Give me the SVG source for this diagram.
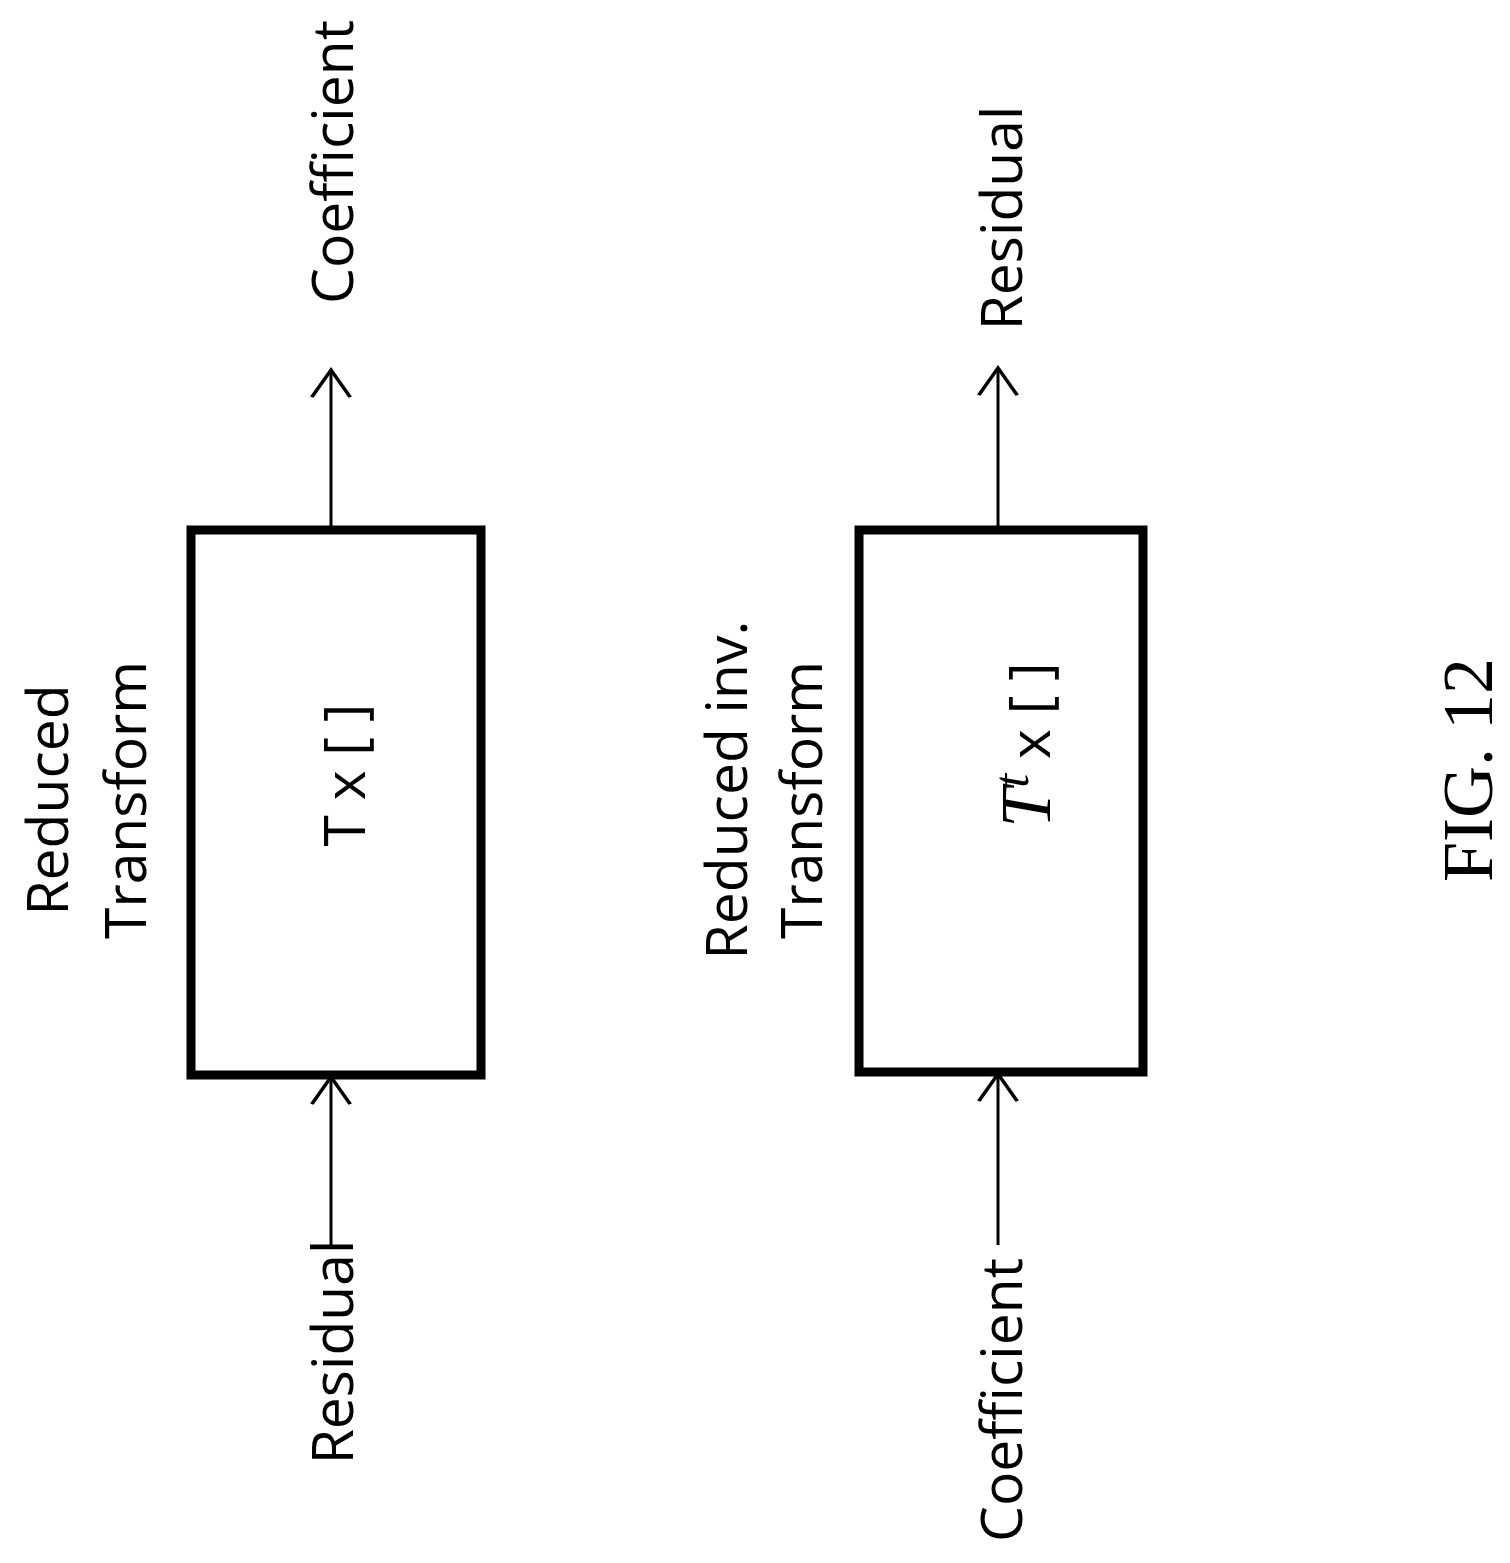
<svg xmlns="http://www.w3.org/2000/svg" width="1510" height="1563" viewBox="0 0 1510 1563">
<defs>
<style>
.b{fill:#fff;stroke:#000;stroke-width:9}
.c{stroke:#000;stroke-width:3;fill:none}
.t{font-family:"Open Sans","DejaVu Sans",sans-serif;font-size:57px;fill:#000;text-anchor:middle}
.f{font-family:"Liberation Serif",serif;font-size:72px;fill:#000;text-anchor:middle}
</style>
<marker id="a" viewBox="0 0 20 20" refX="18" refY="10" markerWidth="34" markerHeight="48" markerUnits="userSpaceOnUse" orient="auto" preserveAspectRatio="none"><path d="M2,2 L18,10 L2,18" fill="none" stroke="#000" stroke-width="1.6"/></marker>
</defs>
<g id="n1"><rect class="b" x="191" y="530" width="290" height="545"/>
<text class="t" transform="translate(365,775) rotate(-90)" font-size="66">T x [ ]</text>
<text class="t" transform="translate(68,800) rotate(-90)">Reduced</text>
<text class="t" transform="translate(146,800) rotate(-90)">Transform</text></g>
<g id="n2"><rect class="b" x="859" y="530" width="284" height="542"/>
<text class="t" transform="translate(1050,745) rotate(-90)" font-size="66"><tspan font-style="italic" font-family="Liberation Serif,serif" font-size="72">T</tspan><tspan font-style="italic" font-family="Liberation Serif,serif" font-size="50" dy="-22">t</tspan><tspan dy="22"> x [ ]</tspan></text>
<text class="t" transform="translate(747,790) rotate(-90)">Reduced inv.</text>
<text class="t" transform="translate(822,800) rotate(-90)">Transform</text></g>
<g id="labels">
<text class="t" transform="translate(353,162) rotate(-90)">Coefficient</text>
<text class="t" transform="translate(353,1352) rotate(-90)">Residual</text>
<text class="t" transform="translate(1022,218) rotate(-90)">Residual</text>
<text class="t" transform="translate(1022,1400) rotate(-90)">Coefficient</text>
<text class="f" transform="translate(1492,770) rotate(-90)">FIG. 12</text>
</g>
<g id="connectors">
<line class="c" x1="331" y1="1245" x2="331" y2="1077" marker-end="url(#a)"/>
<line class="c" x1="331" y1="527" x2="331" y2="370" marker-end="url(#a)"/>
<line class="c" x1="998" y1="1245" x2="998" y2="1074" marker-end="url(#a)"/>
<line class="c" x1="998" y1="527" x2="998" y2="368" marker-end="url(#a)"/>
</g>
</svg>
